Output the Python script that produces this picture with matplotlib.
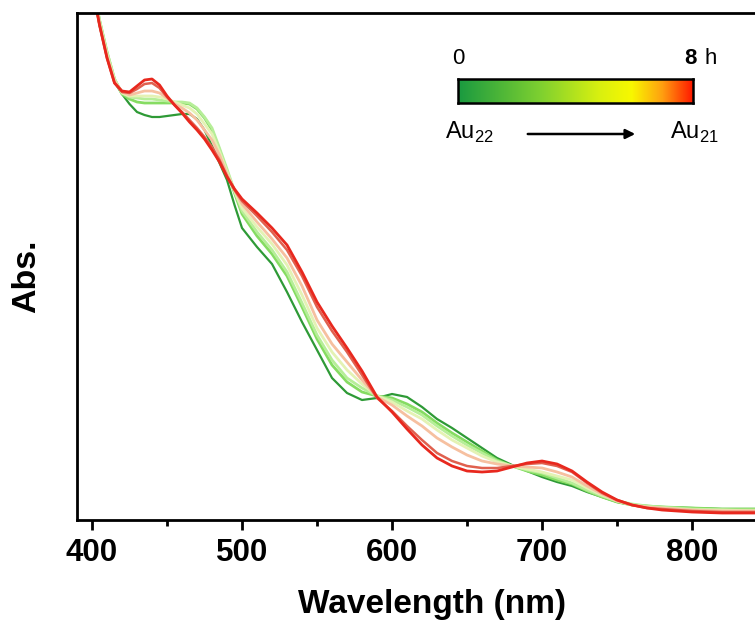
import matplotlib
matplotlib.use("Agg")
import matplotlib.pyplot as plt
import numpy as np
from matplotlib.colors import LinearSegmentedColormap

plt.rcParams['font.family'] = ['Liberation Sans', 'DejaVu Sans']
plt.rcParams['mathtext.fontset'] = 'custom'
plt.rcParams['mathtext.rm'] = 'Liberation Sans'

# Wavelength grid (nm)
wavelength = [400, 405, 410, 415, 420, 425, 430, 435, 440, 445, 450, 455, 460, 465, 470,
              475, 480, 485, 490, 495, 500, 510, 520, 530, 540, 550, 560, 570, 580, 590,
              600, 610, 620, 630, 640, 650, 660, 670, 680, 690, 700, 710, 720, 730, 740,
              750, 760, 770, 780, 800, 820, 845, 865]

# Absorbance (a.u.) for each time point, 0 h -> 8 h
abs_0h = [535, 495, 463, 438, 426, 416, 408, 405, 403, 403, 404, 405, 406, 406, 401,
          390, 374, 357, 340, 315, 292, 273, 256, 228, 198, 170, 142, 127, 120, 122,
          126, 123, 113, 101, 92, 82, 72, 62, 55, 49, 43, 38, 34, 28, 23,
          18, 15, 14, 13, 12, 11, 11, 11]
abs_1 = [540, 500, 468, 441, 426, 421, 418, 417, 417, 417, 417, 417, 417, 416, 411,
         402, 390, 370, 349, 327, 306, 284, 266, 244, 213, 181, 155, 138, 128, 124,
         122, 116, 108, 97, 87, 78, 69, 60, 54, 49, 45, 40, 36, 29, 23,
         18, 15, 14, 13, 12, 11, 11, 11]
abs_2 = [540, 500, 468, 441, 427, 423, 422, 421, 421, 420, 419, 418, 418, 417, 412,
         403, 392, 372, 351, 329, 309, 288, 270, 248, 217, 185, 160, 142, 132, 124,
         120, 113, 105, 94, 84, 75, 67, 59, 54, 50, 47, 42, 37, 30, 24,
         19, 16, 14, 13, 11, 10, 10, 10]
abs_3 = [538, 498, 466, 440, 427, 424, 424, 424, 424, 423, 421, 418, 415, 412, 406,
         396, 386, 368, 348, 329, 312, 293, 276, 255, 225, 192, 168, 150, 136, 124,
         118, 109, 101, 90, 80, 72, 64, 58, 54, 51, 48, 44, 40, 32, 25,
         19, 15, 13, 12, 10, 10, 9, 9]
abs_4 = [537, 497, 464, 439, 428, 425, 427, 429, 429, 427, 422, 416, 412, 407, 400,
         390, 380, 365, 346, 330, 316, 298, 281, 262, 234, 200, 176, 158, 140, 123,
         115, 104, 94, 82, 73, 65, 59, 56, 54, 53, 52, 48, 43, 34, 26,
         19, 15, 13, 12, 10, 9, 9, 9]
abs_5 = [535, 495, 462, 437, 428, 427, 431, 436, 437, 432, 423, 415, 408, 400, 392,
         383, 373, 360, 344, 330, 319, 304, 288, 270, 244, 213, 189, 168, 145, 122,
         109, 94, 80, 67, 59, 54, 52, 52, 54, 56, 57, 54, 48, 37, 27,
         20, 15, 12, 11, 9, 8, 8, 8]
abs_8h = [535, 495, 462, 437, 429, 428, 434, 440, 441, 435, 424, 415, 407, 398, 390,
          381, 370, 358, 343, 331, 321, 307, 292, 275, 248, 218, 194, 172, 149, 123,
          108, 91, 75, 62, 54, 49, 48, 49, 53, 57, 59, 56, 49, 38, 28,
          20, 15, 12, 10, 8, 7, 7, 7]

series = [abs_0h, abs_1, abs_2, abs_3, abs_4, abs_5, abs_8h]
colors = ['#2e9a36', '#86dc62', '#b6ee98', '#e4f2b4', '#f6c0a0', '#e0604e', '#e8281e']
widths = [1.6, 2.0, 2.0, 2.0, 2.0, 1.8, 2.0]

xticks = [400, 500, 600, 700, 800]
xtick_labels = ['400', '500', '600', '700', '800']

fig = plt.figure(figsize=(7.55, 6.28), dpi=100)
ax = fig.add_axes([77/755, 1-520/628, (787-77)/755, (520-13)/628])

for vals, c, lw in zip(series, colors, widths):
    ax.plot(wavelength, vals, color=c, lw=lw, solid_joinstyle='round')

ax.set_xlim(390, 863.3)
ax.set_ylim(0, 507)
ax.set_yticks([])
ax.set_xticks(xticks)
ax.set_xticklabels(xtick_labels, fontsize=22.5, fontweight='bold')
ax.set_xticks([450, 550, 650, 750, 850], minor=True)
ax.tick_params(axis='x', which='major', direction='out', length=7, width=2, pad=6)
ax.tick_params(axis='x', which='minor', direction='out', length=4, width=2)
for s in ax.spines.values():
    s.set_linewidth(2)

fig.text(432/755, 1-604/628, 'Wavelength (nm)', fontsize=24, fontweight='bold',
         ha='center', va='center')
fig.text(27/755, 1-276/628, 'Abs.', fontsize=24.5, fontweight='bold',
         ha='center', va='center', rotation=90)

# Colour bar legend
cmap = LinearSegmentedColormap.from_list('timecm', [
    (0.0, '#1a9a40'), (0.35, '#7ed030'), (0.6, '#d8f010'), (0.74, '#f8f800'),
    (0.87, '#ffa010'), (1.0, '#ff1a00')])
cax = fig.add_axes([458/755, 1-103/628, 235/755, 24/628])
cax.imshow(np.linspace(0, 1, 256)[None, :], aspect='auto', cmap=cmap, extent=[0, 1, 0, 1])
cax.set_xticks([]); cax.set_yticks([])
for s in cax.spines.values():
    s.set_linewidth(1.8)

fig.text(458/755, 1-58/628, '0', fontsize=16, ha='center', va='center')
fig.text(697/755, 1-58/628, '8', fontsize=16, fontweight='bold', ha='right', va='center')
fig.text(705/755, 1-58/628, 'h', fontsize=16, ha='left', va='center')
fig.text(445/755, 1-132/628, r'Au$_{\mathregular{22}}$', fontsize=17, ha='left', va='center')
fig.text(670/755, 1-132/628, r'Au$_{\mathregular{21}}$', fontsize=17, ha='left', va='center')
fig.add_artist(matplotlib.patches.FancyArrowPatch(
    (525/755, 1-134/628), (638/755, 1-134/628), transform=fig.transFigure,
    arrowstyle='-|>', mutation_scale=14, lw=1.8, color='black'))

fig.savefig('out.png', dpi=100)
